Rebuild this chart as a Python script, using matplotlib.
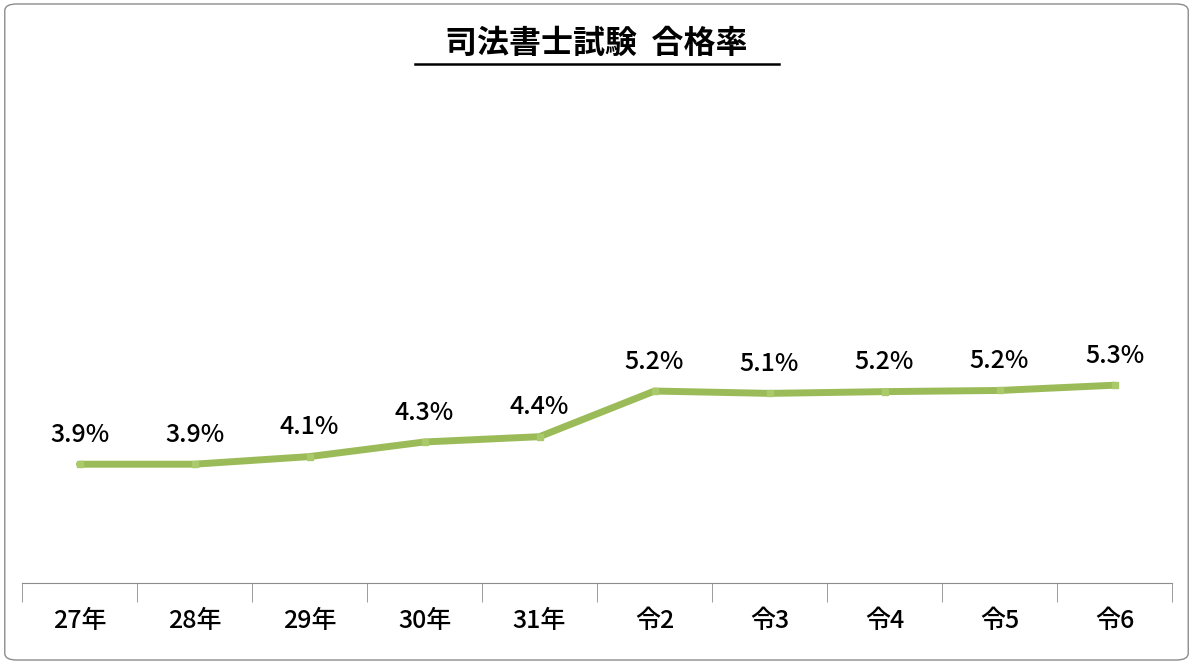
import matplotlib.pyplot as plt
from matplotlib.patches import FancyBboxPatch
from matplotlib.lines import Line2D

plt.rcParams['font.family'] = ['Noto Sans CJK JP', 'DejaVu Sans']

years = ['27年', '28年', '29年', '30年', '31年', '令2', '令3', '令4', '令5', '令6']
rates = [3.93, 3.93, 4.06, 4.31, 4.40, 5.18, 5.14, 5.17, 5.19, 5.28]
title = '司法書士試験  合格率'

fig = plt.figure(figsize=(11.93, 6.64), dpi=100)
fig.patches.append(FancyBboxPatch((0.004, 0.006), 0.992, 0.988, boxstyle='round,pad=0,rounding_size=0.01',
                                  transform=fig.transFigure, fill=False, edgecolor='#8c8c8c', linewidth=1))
ax = fig.add_axes([22 / 1193, 81 / 664, 1150 / 1193, 0.758])
x = list(range(len(years)))
ax.plot(x, rates, color='#9bbb59', linewidth=5, solid_capstyle='round',
        marker='s', markersize=5, markerfacecolor='#a9c96b', markeredgecolor='#a9c96b')
for xi, v in zip(x, rates):
    ax.text(xi, v + 0.28, f'{v:.1f}%', ha='center', va='bottom', fontsize=18, fontweight='medium')

ax.set_xlim(-0.5, len(years) - 0.5)
ax.set_ylim(1.9, 10.5)
ax.set_yticks([])
ax.set_xticks(x)
ax.set_xticklabels(years, fontsize=18, fontweight='medium')
ax.set_xticks([i - 0.5 for i in range(len(years) + 1)], minor=True)
ax.tick_params(axis='x', which='major', length=0, pad=18)
ax.tick_params(axis='x', which='minor', length=14, color='#8c8c8c', direction='out')
for s in ['top', 'right', 'left']:
    ax.spines[s].set_visible(False)
ax.spines['bottom'].set_color('#8c8c8c')

fig.text(0.5, 1 - 44 / 664, title, ha='center', va='center', fontsize=23, fontweight='bold')
fig.add_artist(Line2D([415 / 1193, 779 / 1193], [1 - 64 / 664] * 2, color='black', linewidth=1.8))

fig.savefig('out.png', dpi=100)
